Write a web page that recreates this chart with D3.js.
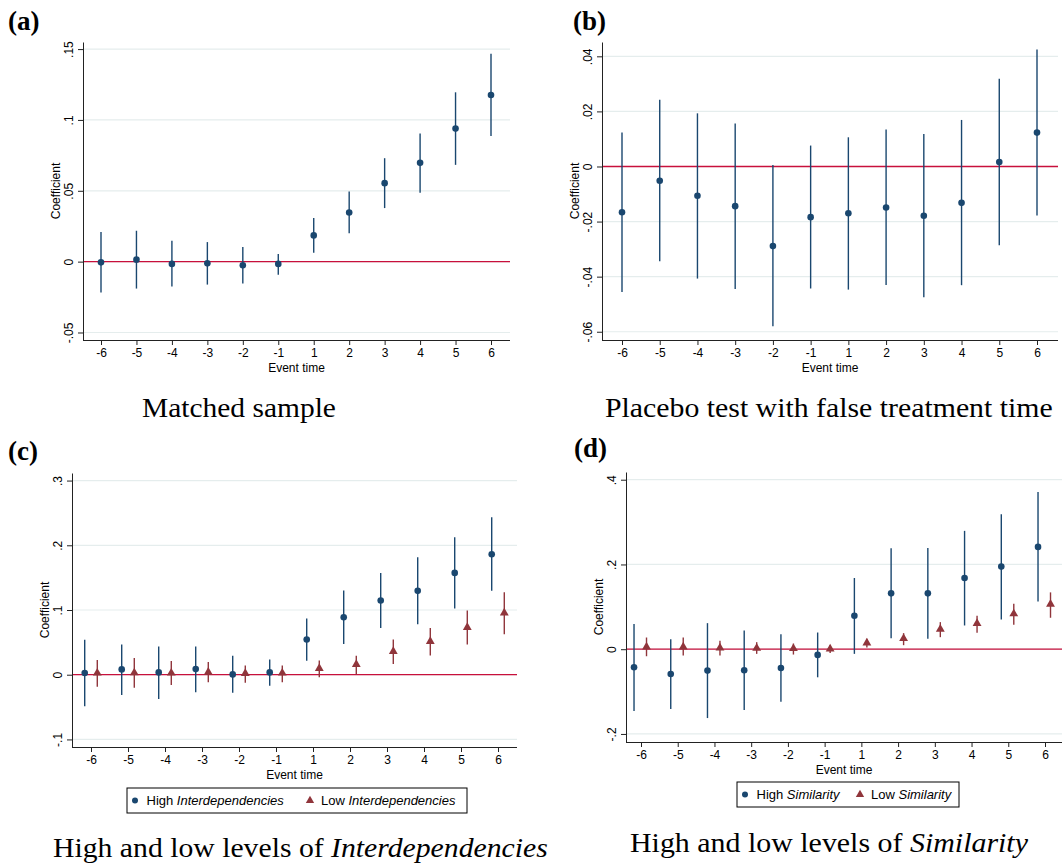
<!DOCTYPE html>
<html>
<head>
<meta charset="utf-8">
<script src="https://cdn.jsdelivr.net/npm/d3@7"></script>
<style>
  body { margin: 0; background: #fff; }
  svg { display: block; }
</style>
</head>
<body>
<script>
// Data:
const eventTimes = ["-6", "-5", "-4", "-3", "-2", "-1", "1", "2", "3", "4", "5", "6"];

// (a) Matched sample
const matchedCoef = [-0.0005, 0.0014, -0.0016, -0.0012, -0.0026, -0.0016, 0.0185, 0.0347, 0.0554, 0.0697, 0.0939, 0.1176];
const matchedLow = [-0.0218, -0.019, -0.0176, -0.0162, -0.0155, -0.0092, 0.0063, 0.02, 0.0378, 0.0486, 0.0683, 0.0887];
const matchedHigh = [0.0209, 0.0218, 0.0148, 0.0138, 0.0103, 0.0054, 0.0308, 0.0495, 0.073, 0.0904, 0.1195, 0.1467];
const matchedTicks = [-0.05, 0, 0.05, 0.1, 0.15];
const matchedTickLabels = ["-.05", "0", ".05", ".1", ".15"];

// (b) Placebo test
const placeboCoef = [-0.0166, -0.0052, -0.0106, -0.0144, -0.0289, -0.0184, -0.017, -0.0149, -0.0179, -0.0132, 0.0016, 0.0123];
const placeboLow = [-0.0456, -0.0344, -0.0407, -0.0445, -0.058, -0.0443, -0.0447, -0.043, -0.0475, -0.0431, -0.0286, -0.0178];
const placeboHigh = [0.0123, 0.0242, 0.0193, 0.0156, 0.0005, 0.0076, 0.0106, 0.0134, 0.0118, 0.0169, 0.0319, 0.0425];
const placeboTicks = [-0.06, -0.04, -0.02, 0, 0.02, 0.04];
const placeboTickLabels = ["-.06", "-.04", "-.02", "0", ".02", ".04"];

// (c) Interdependencies
const interHighCoef = [0.0026, 0.0082, 0.0036, 0.0087, 0.0005, 0.0036, 0.0545, 0.0889, 0.1147, 0.1296, 0.1573, 0.1861];
const interHighLow = [-0.0488, -0.0314, -0.0375, -0.0272, -0.0278, -0.017, 0.0216, 0.0473, 0.072, 0.0781, 0.1023, 0.1296];
const interHighHigh = [0.054, 0.0468, 0.0437, 0.0437, 0.0293, 0.0237, 0.0869, 0.13, 0.1573, 0.1815, 0.2123, 0.2432];
const interLowCoef = [0.0026, 0.003, 0.0026, 0.004, 0.002, 0.0026, 0.0098, 0.016, 0.036, 0.0514, 0.073, 0.0956];
const interLowLow = [-0.0185, -0.02, -0.016, -0.0118, -0.0123, -0.0118, -0.004, 0.0005, 0.0165, 0.0298, 0.0468, 0.0627];
const interLowHigh = [0.0226, 0.0257, 0.0211, 0.0195, 0.0144, 0.0144, 0.0221, 0.0293, 0.0545, 0.072, 0.0992, 0.1275];
const interTicks = [-0.1, 0, 0.1, 0.2, 0.3];
const interTickLabels = ["-.1", "0", ".1", ".2", ".3"];

// (d) Similarity
const simHighCoef = [-0.0426, -0.0584, -0.0505, -0.0497, -0.0442, -0.0134, 0.0789, 0.1318, 0.1318, 0.168, 0.1949, 0.2414];
const simHighLow = [-0.146, -0.1412, -0.1625, -0.1436, -0.1239, -0.0663, -0.011, 0.026, 0.0245, 0.056, 0.0702, 0.1128];
const simHighHigh = [0.0592, 0.0237, 0.0615, 0.0442, 0.0355, 0.0394, 0.168, 0.2383, 0.239, 0.2793, 0.3187, 0.3708];
const simLowCoef = [0.0055, 0.0055, 0.0032, 0.0024, 0.0016, 0.0008, 0.015, 0.0252, 0.0473, 0.0607, 0.0836, 0.1065];
const simLowLow = [-0.0166, -0.015, -0.015, -0.011, -0.0126, -0.0087, 0.0039, 0.0095, 0.0284, 0.0387, 0.0576, 0.0742];
const simLowHigh = [0.0276, 0.0276, 0.0197, 0.0166, 0.0134, 0.0095, 0.0245, 0.0379, 0.0639, 0.0789, 0.1073, 0.1341];
const simTicks = [-0.2, 0, 0.2, 0.4];
const simTickLabels = ["-.2", "0", ".2", ".4"];

// Colours:
const blue = "#1a476f";
const maroon = "#90353b";
const sans = "'Liberation Sans', Arial, sans-serif";
const serif = "'Liberation Serif', 'Times New Roman', serif";

// Adding Canvas:
const svg = d3
  .select("body")
  .append("svg")
  .attr("width", 1064)
  .attr("height", 864);

function drawPanel(p) {
  // x: first and last event time sit at x0 / x1, axis runs left..right
  const x = d3.scalePoint().domain(eventTimes).range([p.x0, p.x1]);
  const y = d3.scaleLinear().domain(p.yDomain).range([p.bottom, p.top]);
  const g = svg.append("g");

  // Gridlines:
  g.append("g")
    .selectAll("line")
    .data(p.ticks)
    .join("line")
    .attr("x1", p.left)
    .attr("x2", p.right)
    .attr("y1", (d) => y(d))
    .attr("y2", (d) => y(d))
    .attr("stroke", "#e5eded")
    .attr("stroke-width", 1.2);

  // Zero line:
  g.append("line")
    .attr("x1", p.left)
    .attr("x2", p.right)
    .attr("y1", y(0))
    .attr("y2", y(0))
    .attr("stroke", "#c8103c")
    .attr("stroke-width", 1.3);

  // Series:
  p.series.forEach((s) => {
    const cx = (i) => x(eventTimes[i]) + s.shift * x.step();
    g.append("g")
      .selectAll("line")
      .data(s.coef)
      .join("line")
      .attr("x1", (d, i) => cx(i))
      .attr("x2", (d, i) => cx(i))
      .attr("y1", (d, i) => y(s.low[i]))
      .attr("y2", (d, i) => y(s.high[i]))
      .attr("stroke", s.color)
      .attr("stroke-width", 1.4);
    if (s.marker === "circle") {
      g.append("g")
        .selectAll("circle")
        .data(s.coef)
        .join("circle")
        .attr("cx", (d, i) => cx(i))
        .attr("cy", (d) => y(d))
        .attr("r", 3.3)
        .attr("fill", s.color);
    } else {
      g.append("g")
        .selectAll("path")
        .data(s.coef)
        .join("path")
        .attr("d", d3.symbol(d3.symbolTriangle, 34))
        .attr("transform", (d, i) => `translate(${cx(i)},${y(d)})`)
        .attr("fill", s.color);
    }
  });

  // Adding y-axis:
  const yAxis = g
    .append("g")
    .attr("transform", `translate(${p.left},0)`)
    .call(
      d3
        .axisLeft(y)
        .tickValues(p.ticks)
        .tickFormat((d, i) => p.tickLabels[i])
        .tickSize(5)
        .tickSizeOuter(0)
    );
  yAxis
    .selectAll(".tick text")
    .attr("x", 0)
    .attr("y", 0)
    .attr("dy", null)
    .attr("text-anchor", "middle")
    .attr("transform", "translate(-10,0) rotate(-90)");

  // Adding x-axis:
  const xAxis = g
    .append("g")
    .attr("transform", `translate(0,${p.bottom})`)
    .call(d3.axisBottom(x).tickSize(5).tickSizeOuter(0));
  xAxis.select(".domain").remove();
  xAxis
    .append("line")
    .attr("class", "domain")
    .attr("x1", p.left)
    .attr("x2", p.right)
    .attr("y1", 0.5)
    .attr("y2", 0.5);

  [xAxis, yAxis].forEach((a) => {
    a.select(".domain").attr("stroke", "#222");
    a.selectAll(".tick line").attr("stroke", "#222");
    a.selectAll(".tick text")
      .attr("fill", "#000")
      .style("font-family", sans)
      .style("font-size", "12px");
  });

  // Axis titles:
  g.append("text")
    .attr("x", (p.left + p.right) / 2)
    .attr("y", p.bottom + 32)
    .attr("text-anchor", "middle")
    .style("font-family", sans)
    .style("font-size", "12px")
    .text("Event time");
  g.append("text")
    .attr("transform", `translate(${p.left - 23.5},${(p.top + p.bottom) / 2}) rotate(-90)`)
    .attr("text-anchor", "middle")
    .style("font-family", sans)
    .style("font-size", "12px")
    .text("Coefficient");

  // Panel letter:
  g.append("text")
    .attr("x", p.letterX)
    .attr("y", p.letterY)
    .style("font-family", serif)
    .style("font-weight", "bold")
    .style("font-size", "27px")
    .text(p.letter);

  // Caption (stretched to the width in the figure):
  const cap = g
    .append("text")
    .style("font-family", serif)
    .style("font-size", "28px");
  cap.append("tspan").text(p.caption[0]);
  if (p.caption[1]) cap.append("tspan").style("font-style", "italic").text(p.caption[1]);
  const w = cap.node().getComputedTextLength();
  cap.attr("transform", `translate(${p.capX},${p.capY}) scale(${p.capW / w},1)`);

  // Legend:
  if (p.legend) {
    const L = p.legend;
    g.append("rect")
      .attr("x", L.x)
      .attr("y", L.y)
      .attr("width", L.w)
      .attr("height", L.h)
      .attr("fill", "#fff")
      .attr("stroke", "#000")
      .attr("stroke-width", 1);
    const cy = L.y + L.h / 2;
    g.append("circle").attr("cx", L.x + 8).attr("cy", cy).attr("r", 3).attr("fill", blue);
    g.append("path")
      .attr("d", d3.symbol(d3.symbolTriangle, 30))
      .attr("transform", `translate(${L.x + L.tri},${cy})`)
      .attr("fill", maroon);
    [
      [L.x + 19.5, "High "],
      [L.x + L.tri + 11, "Low "],
    ].forEach(([tx, word]) => {
      const t = g
        .append("text")
        .attr("x", tx)
        .attr("y", cy + 4.6)
        .style("font-family", sans)
        .style("font-size", "13px");
      t.append("tspan").text(word);
      t.append("tspan").style("font-style", "italic").text(L.name);
    });
  }
}

drawPanel({
  left: 83, right: 510, top: 42, bottom: 340, x0: 101, x1: 491,
  yDomain: [-0.0553, 0.155],
  ticks: matchedTicks, tickLabels: matchedTickLabels,
  series: [{ coef: matchedCoef, low: matchedLow, high: matchedHigh, color: blue, marker: "circle", shift: 0 }],
  letter: "(a)", letterX: 8, letterY: 30,
  caption: ["Matched sample"], capX: 142, capY: 417, capW: 194,
});

drawPanel({
  left: 602, right: 1058, top: 42, bottom: 340, x0: 622, x1: 1037,
  yDomain: [-0.063, 0.0452],
  ticks: placeboTicks, tickLabels: placeboTickLabels,
  series: [{ coef: placeboCoef, low: placeboLow, high: placeboHigh, color: blue, marker: "circle", shift: 0 }],
  letter: "(b)", letterX: 573, letterY: 30,
  caption: ["Placebo test with false treatment time"], capX: 605, capY: 417, capW: 448,
});

drawPanel({
  left: 72, right: 517, top: 473, bottom: 747, x0: 91, x1: 498,
  yDomain: [-0.1117, 0.3117],
  ticks: interTicks, tickLabels: interTickLabels,
  series: [
    { coef: interHighCoef, low: interHighLow, high: interHighHigh, color: blue, marker: "circle", shift: -0.17 },
    { coef: interLowCoef, low: interLowLow, high: interLowHigh, color: maroon, marker: "triangle", shift: 0.17 },
  ],
  letter: "(c)", letterX: 8, letterY: 460,
  caption: ["High and low levels of ", "Interdependencies"], capX: 53, capY: 857, capW: 495,
  legend: { x: 127, y: 788, w: 340, h: 25, tri: 183, name: "Interdependencies" },
});

drawPanel({
  left: 626, right: 1062, top: 472, bottom: 742, x0: 641, x1: 1045,
  yDomain: [-0.219, 0.4182],
  ticks: simTicks, tickLabels: simTickLabels,
  series: [
    { coef: simHighCoef, low: simHighLow, high: simHighHigh, color: blue, marker: "circle", shift: -0.19 },
    { coef: simLowCoef, low: simLowLow, high: simLowHigh, color: maroon, marker: "triangle", shift: 0.15 },
  ],
  letter: "(d)", letterX: 574, letterY: 457,
  caption: ["High and low levels of ", "Similarity"], capX: 630, capY: 852, capW: 398,
  legend: { x: 737, y: 782, w: 222, h: 25, tri: 123, name: "Similarity" },
});
</script>
</body>
</html>
